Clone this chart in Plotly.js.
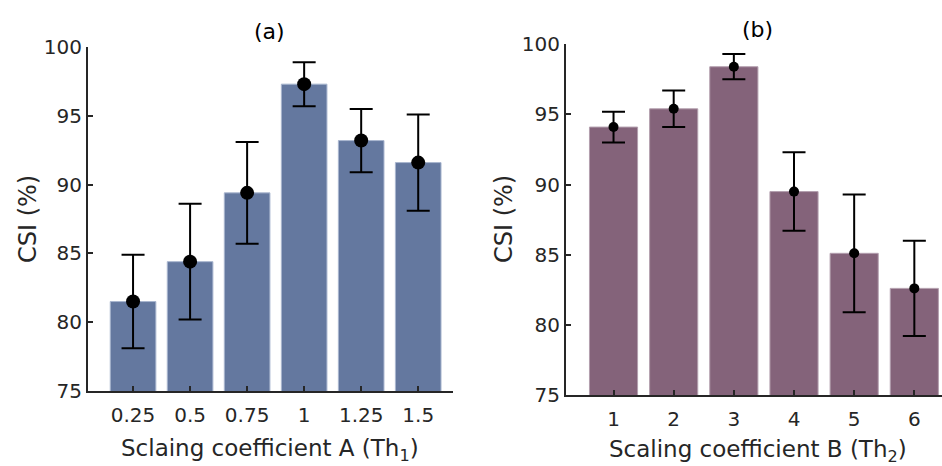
<!DOCTYPE html>
<html>
<head>
<meta charset="utf-8">
<script src="https://cdn.plot.ly/plotly-3.0.1.min.js"></script>
<style>html,body{margin:0;padding:0;background:#fff;}#chart{width:942px;height:466px;}</style>
</head>
<body>
<div id="chart"></div>
<script>
// Panel (a)
const catsA = ['0.25', '0.5', '0.75', '1', '1.25', '1.5'];
const csiA = [81.5, 84.4, 89.4, 97.3, 93.2, 91.6];
const upperA = [84.9, 88.6, 93.1, 98.9, 95.5, 95.1];
const lowerA = [78.1, 80.2, 85.7, 95.7, 90.9, 88.1];
// Panel (b)
const catsB = ['1', '2', '3', '4', '5', '6'];
const csiB = [94.1, 95.4, 98.4, 89.5, 85.1, 82.6];
const upperB = [95.2, 96.7, 99.3, 92.3, 89.3, 86.0];
const lowerB = [93.0, 94.1, 97.5, 86.7, 80.9, 79.2];
const yTicks = [75, 80, 85, 90, 95, 100];

const FONT = 'DejaVu Sans, Verdana, sans-serif';
const AXC = '#262626';

const traces = [
  {type:'bar', x:catsA, y:csiA, width:0.8, xaxis:'x', yaxis:'y',
   marker:{color:'#64789f', line:{color:'#a9b6cf', width:1}}, hoverinfo:'none'},
  {type:'scatter', mode:'markers', x:catsA, y:csiA, xaxis:'x', yaxis:'y',
   marker:{color:'#000', size:14},
   error_y:{type:'data', symmetric:false,
     array: upperA.map((u,i)=>u-csiA[i]), arrayminus: csiA.map((v,i)=>v-lowerA[i]),
     color:'#000', thickness:2, width:11.5}},
  {type:'bar', x:catsB, y:csiB, width:0.8, xaxis:'x2', yaxis:'y2',
   marker:{color:'#84637a', line:{color:'#b39fae', width:1}}, hoverinfo:'none'},
  {type:'scatter', mode:'markers', x:catsB, y:csiB, xaxis:'x2', yaxis:'y2',
   marker:{color:'#000', size:10},
   error_y:{type:'data', symmetric:false,
     array: upperB.map((u,i)=>u-csiB[i]), arrayminus: csiB.map((v,i)=>v-lowerB[i]),
     color:'#000', thickness:2, width:11.5}}
];

function xAxis(cats, domain, range, anchor){
  return {type:'category', categoryarray:cats, domain:domain, range:range, anchor:anchor,
    showline:true, linecolor:AXC, linewidth:2, ticks:'inside', ticklen:5, tickwidth:2, tickcolor:AXC,
    showgrid:false, zeroline:false, tickfont:{family:FONT, size:20, color:AXC}, ticklabelstandoff:5};
}
function yAxis(domain, anchor){
  return {domain:domain, range:[75,100], anchor:anchor, tickvals:yTicks, ticktext:yTicks.map(String),
    showline:true, linecolor:AXC, linewidth:2, ticks:'inside', ticklen:5, tickwidth:2, tickcolor:AXC,
    showgrid:false, zeroline:false, tickfont:{family:FONT, size:20, color:AXC}, ticklabelstandoff:0};
}

const W = 942, H = 466;
const px = v => v / W, py = v => 1 - v / H;
function note(text, x, y, size, color, angle){
  return {text:text, x:px(x), y:py(y), xref:'paper', yref:'paper', showarrow:false,
    xanchor:'center', yanchor:'middle', textangle:angle || 0,
    font:{family:FONT, size:size, color:color}};
}

const layout = {
  width:W, height:H, margin:{l:0, r:0, t:0, b:0},
  paper_bgcolor:'#fff', plot_bgcolor:'rgba(0,0,0,0)', showlegend:false,
  xaxis: xAxis(catsA, [px(88), px(453)], [-0.79, 5.61], 'y'),
  yaxis: yAxis([py(391), py(47)], 'x'),
  xaxis2: xAxis(catsB, [px(566), 1], [-0.79, 5.46], 'y2'),
  yaxis2: yAxis([py(395), py(44.3)], 'x2'),
  annotations: [
    note('(a)', 269, 31, 22, '#000'),
    note('(b)', 757, 29, 22, '#000'),
    note('CSI (%)', 28, 219, 24, AXC, -90),
    note('CSI (%)', 504, 219, 24, AXC, -90),
    note('Sclaing coefficient A (Th<sub>1</sub>)', 270, 450, 23, AXC),
    note('Scaling coefficient B (Th<sub>2</sub>)', 758, 451, 23, AXC)
  ]
};

Plotly.newPlot('chart', traces, layout, {staticPlot:true, displayModeBar:false});
</script>
</body>
</html>
